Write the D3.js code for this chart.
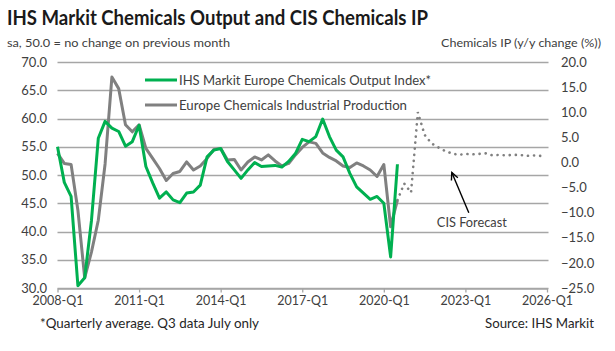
<!DOCTYPE html>
<html><head><meta charset="utf-8">
<script src="https://cdn.jsdelivr.net/npm/d3@7"></script>
<style>
body{margin:0;background:#fff}
svg{display:block}
text{font-family:Lato,"Open Sans",sans-serif}
</style>
</head><body>
<svg id="c" width="615" height="351"></svg>
<script>
// ---------- data ----------
const firstQuarter = "2008-Q1";
const xTickLabels = ["2008-Q1","2011-Q1","2014-Q1","2017-Q1","2020-Q1","2023-Q1","2026-Q1"];
const leftTicks = [30,35,40,45,50,55,60,65,70];
const rightTicks = [-25,-20,-15,-10,-5,0,5,10,15,20];
// IHS Markit Europe Chemicals Output Index (quarterly, from 2008-Q1)
const outputIndex = [55.0,48.7,46.2,30.4,31.8,42.0,56.5,59.5,58.3,57.7,55.1,55.9,58.8,51.5,48.6,45.9,
  47.0,45.6,45.1,46.8,47.0,48.2,53.2,54.4,54.7,52.4,50.9,49.4,50.9,52.2,51.5,51.6,
  51.7,51.4,52.4,53.8,56.3,55.9,56.8,59.9,56.8,54.4,53.2,50.3,47.9,46.8,45.7,46.2,
  45.0,35.5,51.9];
// Europe Chemicals Industrial Production, y/y % (quarterly, from 2008-Q1)
const chemicalsIP = [1.8,-0.2,-0.4,-9.5,-23.0,-17.8,-11.5,-0.3,17.0,14.7,7.5,6.1,7.5,2.8,0.8,-1.2,
  -3.6,-2.2,-1.8,0.1,-1.5,-0.7,0.8,2.6,2.8,0.5,0.6,-1.5,0.1,1.1,0.5,1.5,
  0.3,-0.7,-0.2,1.5,3.0,4.1,3.8,1.9,1.0,0.3,-0.7,-1.0,-0.1,-0.7,-1.5,-2.8,
  -0.4,-12.8,-7.5];
// CIS forecast, y/y % (quarterly, from 2020-Q3)
const forecastStart = "2020-Q3";
const cisForecast = [-7.5,-4.2,-6.0,10.0,5.5,3.8,3.0,2.3,1.8,1.5,1.7,1.6,1.7,1.8,1.4,1.5,1.4,1.5,1.5,1.3,1.4,1.3];

// ---------- helpers ----------
const qIndex = s => { const [y,q] = s.split("-Q"); const [y0,q0] = firstQuarter.split("-Q"); return (+y - +y0)*4 + (+q - +q0); };
const fcOffset = qIndex(forecastStart);

const svg = d3.select("#c");
const x = d3.scaleLinear().domain([0, qIndex("2026-Q1")]).range([57.5, 547]);
const yL = d3.scaleLinear().domain([30, 70]).range([288, 62]);
const yR = d3.scaleLinear().domain([-25, 20]).range([288, 62]);

const gridColor = "#a6a6a6";
const textColor = "#404040";

// gridlines
svg.append("g").selectAll("line").data(leftTicks).join("line")
  .attr("x1", x.range()[0]).attr("x2", 548.5)
  .attr("y1", d => Math.round(yL(d)) + 0.5).attr("y2", d => Math.round(yL(d)) + 0.5)
  .attr("stroke", gridColor).attr("stroke-width", 1.3);

// bottom axis
const xAxis = svg.append("g").attr("transform", "translate(0,288.5)")
  .call(d3.axisBottom(x).tickValues(xTickLabels.map(qIndex)).tickFormat(i => xTickLabels[xTickLabels.map(qIndex).indexOf(i)])
    .tickSize(4).tickSizeOuter(0).tickPadding(4));
xAxis.select(".domain").attr("stroke", gridColor).attr("stroke-width", 1.3);
xAxis.selectAll(".tick line").attr("stroke", gridColor).attr("stroke-width", 1.3);
xAxis.selectAll("text").attr("fill", textColor).style("font-size", "12.5px");

// left axis labels
const lAxis = svg.append("g").attr("transform", "translate(57.5,0)")
  .call(d3.axisLeft(yL).tickValues(leftTicks).tickFormat(d3.format(".1f")).tickSize(0).tickPadding(10.5));
lAxis.select(".domain").remove();
lAxis.selectAll("text").attr("fill", textColor).style("font-size", "13px");

// right axis labels
const rAxis = svg.append("g").attr("transform", "translate(548,0)")
  .call(d3.axisRight(yR).tickValues(rightTicks).tickFormat(d3.format(".1f")).tickSize(0).tickPadding(13));
rAxis.select(".domain").remove();
rAxis.selectAll("text").attr("fill", textColor).style("font-size", "13px");

// lines
const green = "#00b050", grey = "#808080";
svg.append("path").datum(chemicalsIP)
  .attr("d", d3.line().x((d,i) => x(i)).y(d => yR(d)))
  .attr("fill","none").attr("stroke",grey).attr("stroke-width",3).attr("stroke-linejoin","round");
svg.append("path").datum(cisForecast)
  .attr("d", d3.line().x((d,i) => x(i + fcOffset)).y(d => yR(d)))
  .attr("fill","none").attr("stroke",grey).attr("stroke-width",2.6)
  .attr("stroke-dasharray","0.1,6").attr("stroke-linecap","round");
svg.append("path").datum(outputIndex)
  .attr("d", d3.line().x((d,i) => x(i)).y(d => yL(d)))
  .attr("fill","none").attr("stroke",green).attr("stroke-width",3).attr("stroke-linejoin","round");

// annotation arrow
const tip = [x(58), yR(-2)], tail = [x(60.5), yR(-10)];
svg.append("line").attr("x1",tail[0]).attr("y1",tail[1]).attr("x2",tip[0]).attr("y2",tip[1])
  .attr("stroke","#000").attr("stroke-width",1.4);
const ang = Math.atan2(tip[1]-tail[1], tip[0]-tail[0]);
const ah = 8, aw = 0.45;
svg.append("path")
  .attr("d", `M${tip[0]-ah*Math.cos(ang-aw)},${tip[1]-ah*Math.sin(ang-aw)}L${tip[0]},${tip[1]}L${tip[0]-ah*Math.cos(ang+aw)},${tip[1]-ah*Math.sin(ang+aw)}`)
  .attr("fill","none").attr("stroke","#000").attr("stroke-width",1.4);
svg.append("text").attr("x", x(55.8)).attr("y", yR(-12.9)).text("CIS Forecast")
  .attr("fill", textColor).style("font-size","13px").attr("textLength",70).attr("lengthAdjust","spacingAndGlyphs");

// legend
const legend = [{label:"IHS Markit Europe Chemicals Output Index*", color:green, y:80, w:252},
                {label:"Europe Chemicals Industrial Production", color:grey, y:105, w:228}];
const lg = svg.append("g").selectAll("g").data(legend).join("g");
lg.append("line").attr("x1",145).attr("x2",177).attr("y1",d=>d.y).attr("y2",d=>d.y)
  .attr("stroke",d=>d.color).attr("stroke-width",3);
lg.append("text").attr("x",179).attr("y",d=>d.y+4.5).text(d=>d.label)
  .attr("fill",textColor).style("font-size","13px").attr("textLength",d=>d.w).attr("lengthAdjust","spacingAndGlyphs");

// titles & notes
svg.append("text").attr("x",7).attr("y",25).text("IHS Markit Chemicals Output and CIS Chemicals IP")
  .attr("fill","#1a1a1a").style("font-size","20px").style("font-weight","bold")
  .attr("textLength",421).attr("lengthAdjust","spacingAndGlyphs");
svg.append("text").attr("x",7).attr("y",46.5).text("sa, 50.0 = no change on previous month")
  .attr("fill",textColor).style("font-size","11.5px").attr("textLength",223).attr("lengthAdjust","spacingAndGlyphs");
svg.append("text").attr("x",441).attr("y",46.5).text("Chemicals IP (y/y change (%))")
  .attr("fill",textColor).style("font-size","11.5px").attr("textLength",160).attr("lengthAdjust","spacingAndGlyphs");
svg.append("text").attr("x",40).attr("y",327.5).text("*Quarterly average. Q3 data July only")
  .attr("fill","#262626").style("font-size","12.5px").attr("textLength",219).attr("lengthAdjust","spacingAndGlyphs");
svg.append("text").attr("x",594).attr("y",327.5).attr("text-anchor","end").text("Source: IHS Markit")
  .attr("fill","#262626").style("font-size","12.5px").attr("textLength",109).attr("lengthAdjust","spacingAndGlyphs");
</script>
</body></html>
